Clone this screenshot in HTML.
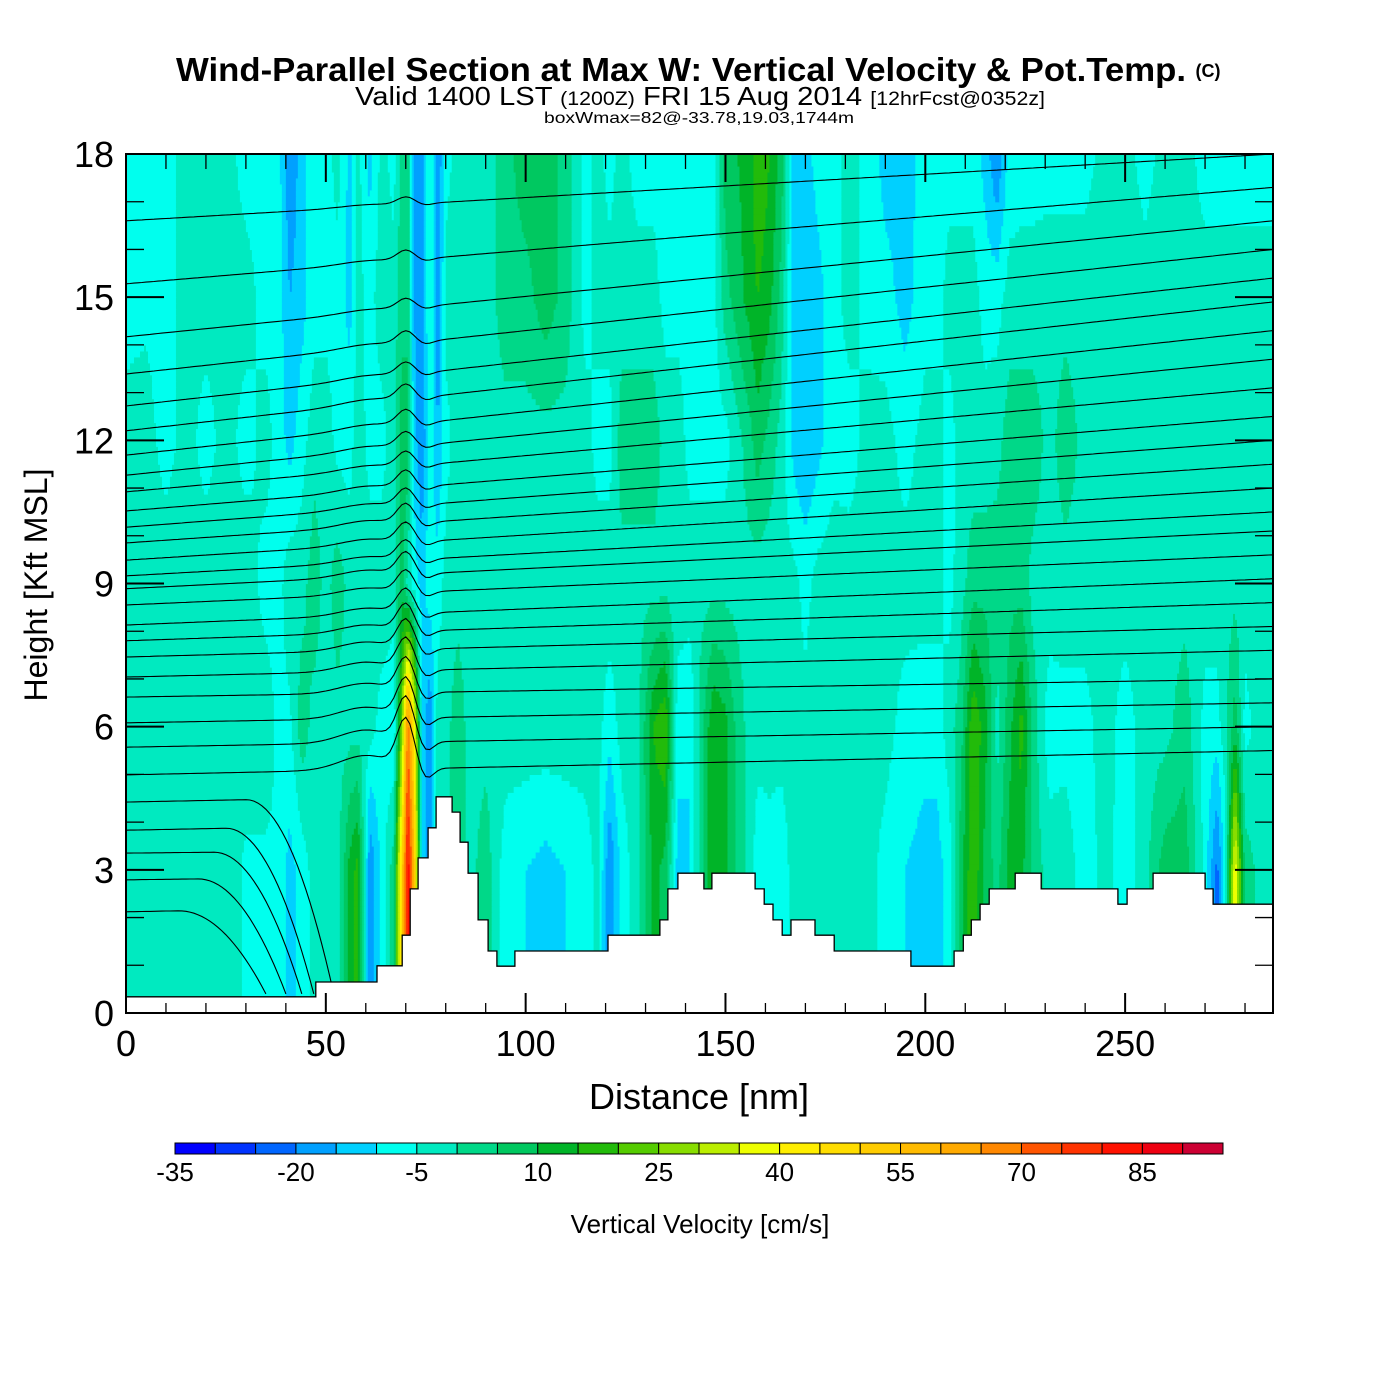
<!DOCTYPE html>
<html><head><meta charset="utf-8">
<style>
html,body{margin:0;padding:0;background:#fff;}
svg{display:block;font-family:"Liberation Sans",Arial,sans-serif;}
</style></head>
<body>
<svg id="chart" width="1400" height="1400" viewBox="0 0 1400 1400" xmlns="http://www.w3.org/2000/svg">
<rect x="0" y="0" width="1400" height="1400" fill="#fff"/>
<g>
<text x="176" y="81" textLength="1010" lengthAdjust="spacingAndGlyphs" font-size="33" font-weight="bold">Wind-Parallel Section at Max W: Vertical Velocity &amp; Pot.Temp.</text>
<text x="1208" y="77" text-anchor="middle" font-size="18" font-weight="bold">(C)</text>
<text x="355" y="105" textLength="690" lengthAdjust="spacingAndGlyphs" font-size="26">Valid 1400 LST <tspan font-size="19">(1200Z)</tspan> FRI 15 Aug 2014 <tspan font-size="19">[12hrFcst@0352z]</tspan></text>
<text x="544" y="123" textLength="310" lengthAdjust="spacingAndGlyphs" font-size="16">boxWmax=82@-33.78,19.03,1744m</text>
</g>
<g id="field"></g>
<g id="contours"></g>
<g id="terrain"></g>
<g id="axes"></g>
<g id="cbar"></g>
<text x="699" y="1109" text-anchor="middle" font-size="36">Distance [nm]</text>
<text transform="translate(47,585) rotate(-90)" text-anchor="middle" font-size="32">Height [Kft MSL]</text>
<text x="700" y="1233" text-anchor="middle" font-size="26">Vertical Velocity [cm/s]</text>
</svg>
<script>
// ---- data ----
const dist = [0,5,10,15,20,25,30,35,38,41,44,47,50,53,56,58,61,64,67,69,70.5,72,74,76,78,80,83,86,90,95,100,105,110,115,118,121,124,128,132,135,138,141,144,147,150,153,156,158,161,164,167,170,173,177,181,186,190,195,200,203,206,209,212,215,218,221,224,227,231,235,240,245,250,255,260,265,270,273,275,277.5,280,284,287];
const levels = [3,6,9,12,15,18];
const w3 = [-2,-2,-2,-2,-2,-2,-6,-6,-6,-12, -8,-3,-2,-2,12,17,-20,-8,3,50, 85,60,-10,-20,-2,-2,3,-2,3,-8, -10,-12,-10,-8,-3,-20,-8,-2,12,8, -12,-10,3,15,12,3,-2,-8,-7,-8, -3,-3,-2,-2,-2,-3,-7,-10,-12,-12, -8,8,20,8,3,12,12,3,-2,-2, -8,-3,-8,-2,8,8,-7,-22,-8,40, 3,-2,-2];
const w6 = [-2,-2,-2,-2,-2,-2,-2,-2,-6,-6, 3,-2,-2,-2,-2,-2,-3,-7,-10,25, 70,45,-10,-20,-2,-2,3,-2,-2,-2, -2,-2,-2,-2,-3,-8,-3,-2,15,20, -8,-10,3,15,12,3,-2,-3,-3,-3, -3,-3,-2,-3,-3,-3,-3,-7,-8,-8, -2,3,20,12,-2,8,17,3,-8,-7, -7,-2,-8,-2,-2,3,-7,-7,-2,8, -7,-2,-2];
const w9 = [-2,-2,-2,-2,-2,-2,-2,-7,-7,-2, -2,3,-2,3,-2,-2,-2,-2,-2,8, -2,-7,-12,-7,-8,-3,-2,-2,-2,-2, -2,-2,-2,-2,-2,-2,-2,-2,-2,-2, -2,-2,-2,-2,-2,-2,-2,-3,-3,-3, -3,-7,-3,-2,-3,-3,-3,-3,-3,-3, -7,-2,3,3,3,3,3,-2,-2,-2, -2,-2,-2,-2,-2,-2,-2,-2,-2,-2, -2,-2,-2];
const w12 = [-3,-3,-7,-3,-7,-3,-7,-3,-7,-12, -7,-2,-2,-7,-7,-2,-7,-7,-2,8, 8,-12,-20,-7,-15,-7,-2,-2,-2,-2, -2,-2,-2,-3,-7,-7,3,3,3,-2, -2,-7,-7,-7,-7,-2,3,8,3,-2, -12,-15,-12,-7,-7,-3,-3,-7,-3,-3, -7,-3,-3,-3,-2,3,3,3,-2,3, -2,-2,-2,-2,-2,-2,-2,-2,-2,-2, -2,-3,-3];
const w15 = [-7,-6,-7,-3,-3,-3,-3,-7,-7,-15, -12,-7,-7,-7,-12,-3,-7,-2,-3,3, 3,-15,-20,-3,-20,-3,-2,-2,-3,3, 3,8,3,-7,-3,-3,-3,-3,-3,-7, -7,-7,-8,-7,3,8,12,15,12,3, -12,-15,-12,-7,-3,-7,-8,-12,-7,-7, -3,-3,-3,-7,-7,-3,-3,-3,-2,-2, -2,-3,-2,-3,-2,-3,-3,-3,-3,-3, -3,-3,-3];
const w18 = [-7,-7,-7,-3,-3,-3,-7,-7,-7,-20, -12,-7,-7,-3,-12,-3,-12,-3,-7,3, 3,-15,-20,-3,-20,-7,-3,-3,-3,3, 8,8,3,-7,-3,-7,-3,-7,-7,-7, -7,-8,-8,-7,8,10,12,20,15,8, -12,-12,-8,-7,-3,-7,-12,-12,-8,-7, -7,-7,-7,-12,-20,-8,-7,-7,-7,-7, -7,-3,-3,-7,-3,-3,-7,-7,-7,-7, -7,-7,-7];
const colorLevels = [-35,-30,-25,-20,-15,-10,-5,0,5,10,15,20,25,30,35,40,45,50,55,60,65,70,75,80,85,90,95];
const cbLabels = [-35,-20,-5,10,25,40,55,70,85];
const terrX = [0,47.5,62.8,69.1,71.1,73.1,75.6,77.6,81.6,83.6,85.6,88.1,90.6,92.8,97.3,120.6,133.6,135.6,138.1,144.6,146.6,157.4,159.7,161.9,164.2,166.4,172.4,177.2,196.4,207.2,209.5,211.5,213.7,216.0,222.5,229.0,248.2,250.5,257.0,270.0,272.0];
const terrH = [0.34,0.65,0.99,1.63,2.6,3.25,3.88,4.53,4.21,3.58,2.93,1.95,1.30,0.98,1.30,1.63,1.95,2.6,2.93,2.6,2.93,2.6,2.28,1.95,1.63,1.95,1.63,1.30,0.98,1.30,1.63,1.95,2.28,2.6,2.93,2.6,2.28,2.6,2.93,2.6,2.28];
const thetaLeft = [16.6,15.28,14.17,13.39,12.72,12.2,11.69,11.27,10.92,10.52,10.18,9.85,9.49,9.16,8.89,8.55,8.13,7.8,7.46,7.04,6.62,6.08,5.57,4.99,4.42,3.83,3.35,2.79,2.12];
const thetaRight = [18.0,17.3,16.6,16.0,15.4,14.9,14.3,13.7,13.1,12.5,12.0,11.5,11.0,10.5,10.1,9.6,9.1,8.6,8.1,7.6,7.0,6.5,6.0,5.5,4.9,4.3,3.6,3.1,2.6];
const thetaBump = [0.15,0.2,0.2,0.25,0.25,0.3,0.3,0.3,0.3,0.35,0.35,0.4,0.4,0.4,0.45,0.45,0.5,0.55,0.6,0.65,0.7,0.8,0.9,1.0,0,0,0,0,0];
const thetaEnd = [0,0,0,0,0,0,0,0,0,0,0,0,0,0,0,0,0,0,0,0,0,0,0,0,52,47,44,40,35];
const xTicks = [0,50,100,150,200,250];
const yTicks = [0,3,6,9,12,15,18];

const colors = ["#0000ff","#0033ff","#0066ff","#00a0ff","#00d0ff","#00ffee","#00eac0","#00d888","#00c860","#00b428","#22bb0a","#55cc00","#88dd00","#bbee00","#eeff00","#ffee00","#ffdd00","#ffcc00","#ffbb00","#ffaa00","#ff8800","#ff5500","#ff3300","#ff1100","#ee0011","#cc0033"];

const NS="http://www.w3.org/2000/svg";
const X0=126,X1=1273,Y0=1013,Y1=154,XMAX=287,YMAX=18;
function sx(d){return X0+d*(X1-X0)/XMAX;}
function sy(h){return Y0-h*(Y0-Y1)/YMAX;}
function mk(tag,attrs,parent){const e=document.createElementNS(NS,tag);for(const k in attrs)e.setAttribute(k,attrs[k]);parent.appendChild(e);return e;}

const rows=[w3,w6,w9,w12,w15,w18];
function colInterp(row,d){
  let i=0;while(i<dist.length-2&&dist[i+1]<d)i++;
  const t=Math.max(0,Math.min(1,(d-dist[i])/(dist[i+1]-dist[i])));
  return row[i]*(1-t)+row[i+1]*t;
}
function field(d,h){
  if(h<=levels[0])return colInterp(rows[0],d);
  let j=0;while(j<levels.length-2&&levels[j+1]<h)j++;
  const t=Math.max(0,Math.min(1,(h-levels[j])/(levels[j+1]-levels[j])));
  return colInterp(rows[j],d)*(1-t)+colInterp(rows[j+1],d)*t;
}
function bin(v){let b=0;for(let k=0;k<colorLevels.length-1;k++){if(v>=colorLevels[k])b=k;}return Math.min(b,colors.length-1);}

// ---- field ----
const fg=document.getElementById('field');
const dx=0.5,dh=0.125;
for(let h=0;h<YMAX;h+=dh){
  let start=0,cur=bin(field(dx/2,h+dh/2));
  for(let d=dx;d<=XMAX+1e-6;d+=dx){
    const b=d<XMAX?bin(field(d+dx/2,h+dh/2)):-1;
    if(b!==cur){
      const r=mk('rect',{x:sx(start).toFixed(2),y:sy(h+dh).toFixed(2),width:(sx(Math.min(d,XMAX))-sx(start)+0.6).toFixed(2),height:(sy(h)-sy(h+dh)+0.6).toFixed(2),fill:colors[cur]},fg);
      
      
      start=d;cur=b;
    }
  }
}

// ---- theta contours ----
const cg=document.getElementById('contours');
thetaLeft.forEach((L,i)=>{
  const R=thetaRight[i],A=thetaBump[i],E=thetaEnd[i];
  const end=E>0?E:XMAX;
  let pts=[];
  for(let d=0;d<=end+1e-6;d+=1){
    let h=L+(R-L)*d/XMAX;
    h+=A*Math.exp(-Math.pow((d-70)/3,2))+A*0.3*Math.exp(-Math.pow((d-60)/9,2))-A*0.25*Math.exp(-Math.pow((d-75)/2.5,2));
    if(E>0&&d>E-22){const t=(d-(E-22))/22;h=h-(h-0.4)*t*t;}
    pts.push(sx(d).toFixed(1)+','+sy(h).toFixed(1));
  }
  const p=mk('polyline',{points:pts.join(' '),fill:'none',stroke:'#000','stroke-width':1.1},cg);
  
  
});

// ---- terrain ----
const tg=document.getElementById('terrain');
let tp=[sx(0)+','+sy(0)];
terrX.forEach((d,i)=>{const nx=i<terrX.length-1?terrX[i+1]:XMAX;tp.push(sx(d).toFixed(1)+','+sy(terrH[i]).toFixed(1));tp.push(sx(nx).toFixed(1)+','+sy(terrH[i]).toFixed(1));});
tp.push(sx(XMAX)+','+sy(0));
const tpoly=mk('polygon',{points:tp.join(' '),fill:'#fff',stroke:'#000','stroke-width':1.3},tg);



// ---- axes ----
const ag=document.getElementById('axes');
const frame=mk('rect',{x:X0,y:Y1,width:X1-X0,height:Y0-Y1,fill:'none',stroke:'#000','stroke-width':2},ag);


for(let d=0;d<=XMAX;d+=10){
  const major=d%50===0;const L=major?20:10;
  const t1=mk('line',{x1:sx(d),x2:sx(d),y1:Y0,y2:Y0-L,stroke:'#000','stroke-width':major?2:1.3},ag);
  
  
  const t2=mk('line',{x1:sx(d),x2:sx(d),y1:Y1,y2:Y1+(major?28:15),stroke:'#000','stroke-width':major?2:1.3},ag);
  
  
}
xTicks.forEach(v=>{
  const t=mk('text',{x:sx(v),y:1056,'text-anchor':'middle','font-size':36},ag);t.textContent=v;
  
  
});
for(let h=0;h<=YMAX;h+=1){
  const major=h%3===0;const L=major?38:18;
  const t1=mk('line',{x1:X0,x2:X0+L,y1:sy(h),y2:sy(h),stroke:'#000','stroke-width':major?2:1.3},ag);
  
  
  const t2=mk('line',{x1:X1,x2:X1-L,y1:sy(h),y2:sy(h),stroke:'#000','stroke-width':major?2:1.3},ag);
  
  
}
yTicks.forEach(v=>{
  const t=mk('text',{x:114,y:sy(v)+13,'text-anchor':'end','font-size':36},ag);t.textContent=v;
  
  
});

// ---- colorbar ----
const cb=document.getElementById('cbar');
const CB0=175,CB1=1223,CBY=1143,CBH=11;
const bw=(CB1-CB0)/colors.length;
colors.forEach((c,i)=>{
  const r=mk('rect',{x:(CB0+i*bw).toFixed(2),y:CBY,width:bw.toFixed(2),height:CBH,fill:c,stroke:'#000','stroke-width':1},cb);
  
  
});
cbLabels.forEach(v=>{
  const i=colorLevels.indexOf(v);
  const t=mk('text',{x:(CB0+i*bw).toFixed(1),y:1181,'text-anchor':'middle','font-size':26},cb);t.textContent=v;
  
  
});
</script>
</body></html>
